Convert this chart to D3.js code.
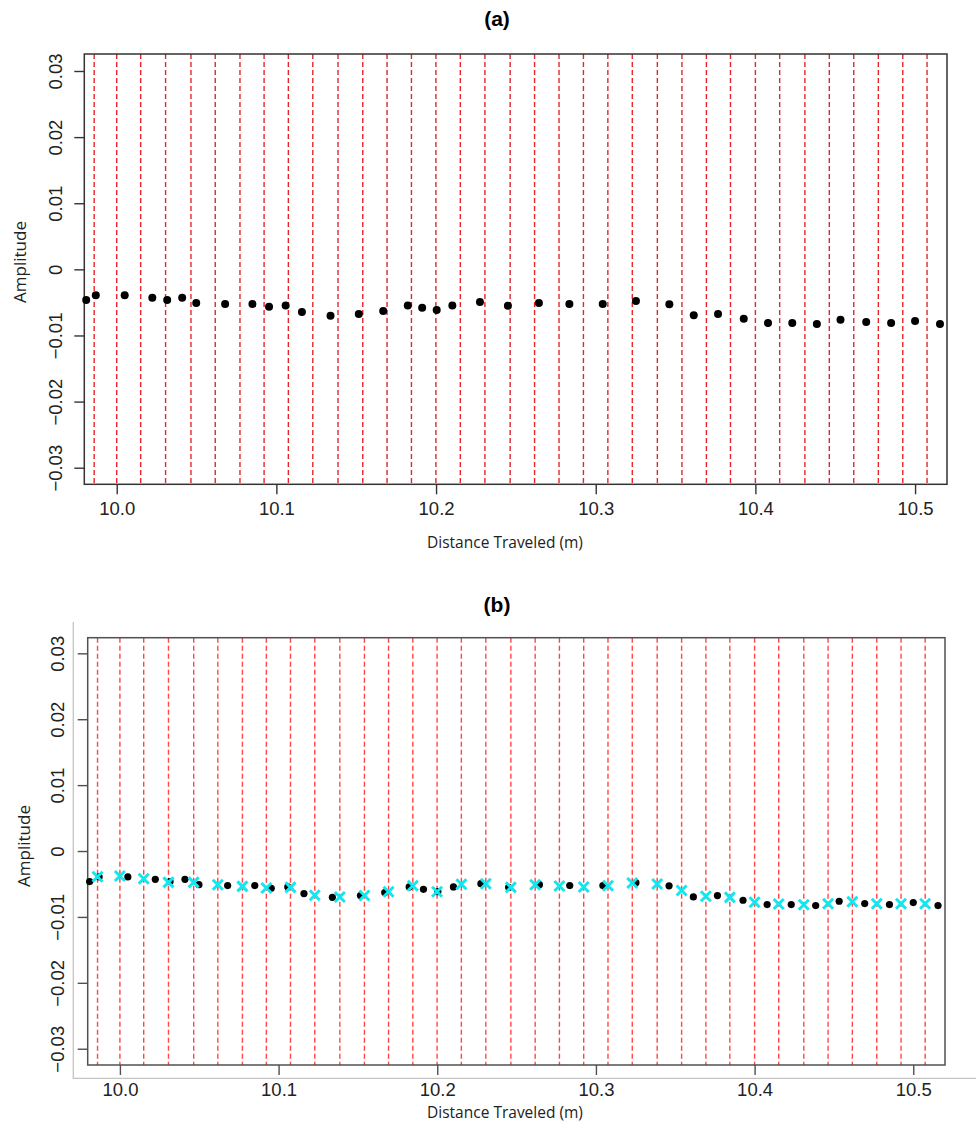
<!DOCTYPE html>
<html>
<head>
<meta charset="utf-8">
<script src="https://cdn.jsdelivr.net/npm/d3@7"></script>
<style>
  html, body { margin: 0; padding: 0; background: #fff; }
  svg { display: block; }
</style>
</head>
<body>
<svg id="chart" width="976" height="1132"></svg>
<script>
// Measured amplitude samples along the travelled distance (m)
const distance = [
  9.9809, 9.9869, 10.0050, 10.0223, 10.0316, 10.0410, 10.0498, 10.0679, 10.0850, 10.0954,
  10.1058, 10.1160, 10.1339, 10.1516, 10.1669, 10.1823, 10.1913, 10.2004, 10.2102, 10.2275,
  10.2450, 10.2644, 10.2835, 10.3044, 10.3252, 10.3461, 10.3614, 10.3766, 10.3927, 10.4079,
  10.4231, 10.4385, 10.4533, 10.4694, 10.4850, 10.5000, 10.5156
];
const amplitude = [
  -0.00464, -0.00393, -0.00393, -0.00430, -0.00464, -0.00430, -0.00510, -0.00525, -0.00525, -0.00566,
  -0.00545, -0.00646, -0.00702, -0.00676, -0.00631, -0.00545, -0.00581, -0.00616, -0.00545, -0.00495,
  -0.00551, -0.00510, -0.00525, -0.00525, -0.00480, -0.00528, -0.00696, -0.00676, -0.00747, -0.00812,
  -0.00812, -0.00828, -0.00762, -0.00797, -0.00812, -0.00782, -0.00828
];

// Segment boundaries (dashed red lines)
const boundaries = [
  9.9859, 10.0000, 10.0150, 10.0306, 10.0465, 10.0617, 10.0772, 10.0923, 10.1075, 10.1228,
  10.1386, 10.1541, 10.1693, 10.1846, 10.1999, 10.2152, 10.2306, 10.2464, 10.2617, 10.2770,
  10.2923, 10.3076, 10.3229, 10.3386, 10.3540, 10.3693, 10.3844, 10.4000, 10.4152, 10.4310,
  10.4463, 10.4616, 10.4770, 10.4923, 10.5075
];
// Resampled amplitude at each boundary (cyan crosses, panel b)
const boundaryAmp = [
  -0.00390, -0.00379, -0.00420, -0.00475, -0.00475, -0.00511, -0.00536, -0.00561, -0.00551, -0.00672,
  -0.00698, -0.00675, -0.00618, -0.00527, -0.00618, -0.00505, -0.00496, -0.00551, -0.00511, -0.00531,
  -0.00546, -0.00527, -0.00486, -0.00501, -0.00599, -0.00687, -0.00703, -0.00778, -0.00804, -0.00815,
  -0.00800, -0.00769, -0.00800, -0.00800, -0.00800
];

const xTicks = [10.0, 10.1, 10.2, 10.3, 10.4, 10.5];
const yTicks = [-0.03, -0.02, -0.01, 0, 0.01, 0.02, 0.03];
const panelTitles = ["(a)", "(b)"];
const xTitle = "Distance Traveled (m)";
const yTitle = "Amplitude";

const svg = d3.select("#chart");
const tickFont = "'Liberation Sans', Arial, sans-serif";
const titleFont = "'Open Sans', 'DejaVu Sans', sans-serif";

const panels = [
  { left: 84.3, right: 947, top: 54, bottom: 484.3, yDomain: [-0.03251, 0.03257],
    yLabX: 55, xLabY: 509, titleY: 18, xTitleY: 542, yTitleX: 19, yTitleY: 262,
    lineColor: "#e3262b", boxColor: "#333", dotR: 4, frame: false, crosses: false },
  { left: 87.7, right: 945, top: 637.7, bottom: 1065, yDomain: [-0.03247, 0.03237],
    yLabX: 57.7, xLabY: 1089.3, titleY: 604, xTitleY: 1112, yTitleX: 23, yTitleY: 846,
    lineColor: "#ff4646", boxColor: "#505050", dotR: 3.6, frame: true, crosses: true }
];

const xDomain = [9.9797, 10.52];
const points = distance.map((d, i) => ({ x: d, y: amplitude[i] }));
const crossPts = boundaries.map((d, i) => ({ x: d, y: boundaryAmp[i] }));

panels.forEach((p, pi) => {
  const x = d3.scaleLinear().domain(xDomain).range([p.left, p.right]);
  const y = d3.scaleLinear().domain(p.yDomain).range([p.bottom, p.top]);
  const g = svg.append("g");

  // outer light frame (left and bottom edges only)
  if (p.frame) {
    g.append("path")
      .attr("d", `M${p.left - 14.4},${p.top - 15.7}V${p.bottom + 13.3}H976`)
      .attr("fill", "none").attr("stroke", "#c4c4c4").attr("stroke-width", 1.3);
  }

  // dashed boundary lines
  g.append("g").selectAll("line").data(boundaries).join("line")
    .attr("x1", d => x(d)).attr("x2", d => x(d))
    .attr("y1", p.top).attr("y2", p.bottom)
    .attr("stroke", p.lineColor).attr("stroke-width", 1.4)
    .attr("stroke-dasharray", "5,3");

  // y axis
  const yAxis = g.append("g")
    .attr("transform", `translate(${p.left},0)`)
    .call(d3.axisLeft(y).tickValues(yTicks).tickSize(10).tickPadding(0)
      .tickFormat(d => d === 0 ? "0" : d3.format(".2f")(d)));
  yAxis.select(".domain").remove();
  yAxis.selectAll(".tick line").attr("stroke", p.boxColor).attr("stroke-width", 1.4);
  yAxis.selectAll(".tick text")
    .attr("x", 0).attr("dy", null)
    .attr("transform", `translate(${p.yLabX - p.left},0) rotate(-90)`)
    .attr("text-anchor", "middle").attr("dominant-baseline", "central")
    .attr("font-family", tickFont).attr("font-size", 18.5).attr("fill", "#222");

  // x axis
  const xAxis = g.append("g")
    .attr("transform", `translate(0,${p.bottom})`)
    .call(d3.axisBottom(x).tickValues(xTicks).tickSize(10)
      .tickFormat(d3.format(".1f")));
  xAxis.select(".domain").remove();
  xAxis.selectAll(".tick line").attr("stroke", p.boxColor).attr("stroke-width", 1.4);
  xAxis.selectAll(".tick text")
    .attr("y", p.xLabY - p.bottom).attr("dy", null)
    .attr("dominant-baseline", "central")
    .attr("font-family", tickFont).attr("font-size", 18.5).attr("fill", "#222");

  // plot box
  g.append("rect")
    .attr("x", p.left).attr("y", p.top)
    .attr("width", p.right - p.left).attr("height", p.bottom - p.top)
    .attr("fill", "none").attr("stroke", p.boxColor).attr("stroke-width", 1.5);

  // amplitude samples
  g.append("g").selectAll("circle").data(points).join("circle")
    .attr("cx", d => x(d.x)).attr("cy", d => y(d.y))
    .attr("r", p.dotR).attr("fill", "#000");

  // resampled values at boundaries
  if (p.crosses) {
    const s = 5;
    g.append("g").selectAll("path").data(crossPts).join("path")
      .attr("transform", d => `translate(${x(d.x)},${y(d.y)})`)
      .attr("d", `M${-s},${-s}L${s},${s}M${-s},${s}L${s},${-s}`)
      .attr("stroke", "#12e6ef").attr("stroke-width", 3).attr("fill", "none");
  }

  // titles
  g.append("text")
    .attr("x", 497).attr("y", p.titleY)
    .attr("text-anchor", "middle").attr("dominant-baseline", "central")
    .attr("font-family", tickFont).attr("font-weight", "bold").attr("font-size", 21)
    .attr("fill", "#000").text(panelTitles[pi]);

  g.append("text")
    .attr("x", 505).attr("y", p.xTitleY)
    .attr("text-anchor", "middle").attr("dominant-baseline", "central")
    .attr("font-family", titleFont).attr("font-size", 15.5)
    .attr("fill", "#222").text(xTitle);

  g.append("text")
    .attr("transform", `translate(${p.yTitleX},${p.yTitleY}) rotate(-90)`)
    .attr("text-anchor", "middle").attr("dominant-baseline", "central")
    .attr("font-family", titleFont).attr("font-size", 17)
    .attr("fill", "#222").text(yTitle);
});
</script>
</body>
</html>
